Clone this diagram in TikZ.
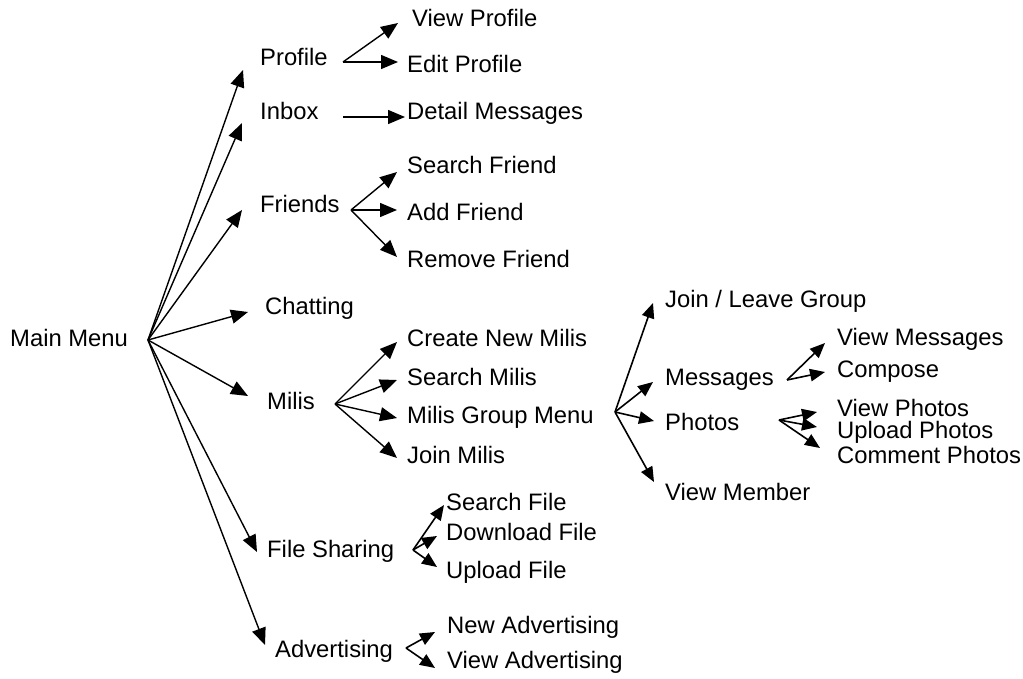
\documentclass[tikz,border=0pt]{standalone}
\usepackage{fontspec}
\setmainfont{Liberation Sans}
\usetikzlibrary{arrows.meta}
\begin{document}
\begin{tikzpicture}[x=1pt,y=-1pt,
  lbl/.style={anchor=base west,inner sep=0pt,font=\fontsize{23.8}{28}\selectfont},
  arr/.style={line width=1.4pt,-{Triangle[length=17pt,width=14pt]}},
  sarr/.style={line width=1.6pt,-{Triangle[length=15pt,width=12.5pt]}}]
\useasboundingbox (0,0) rectangle (1023,679);
% level 0/1 labels
\node[lbl] (main) at (10,346) {Main Menu};
\node[lbl] (profile) at (260,66) {Profile};
\node[lbl] (inbox) at (260,120) {Inbox};
\node[lbl] (friends) at (260,213) {Friends};
\node[lbl] (chat) at (265,314) {Chatting};
\node[lbl] (milis) at (267,409) {Milis};
\node[lbl] (files) at (267,557) {File Sharing};
\node[lbl] (adv) at (275,657) {Advertising};
% level 2 labels
\node[lbl] (vprof) at (412,27) {View Profile};
\node[lbl] (eprof) at (407,73) {Edit Profile};
\node[lbl] (dmsg) at (407,120) {Detail Messages};
\node[lbl] (sfr) at (407,174) {Search Friend};
\node[lbl] (afr) at (407,221) {Add Friend};
\node[lbl] (rfr) at (407,267) {Remove Friend};
\node[lbl] (cnm) at (407,346) {Create New Milis};
\node[lbl] (sm) at (407,385) {Search Milis};
\node[lbl] (mgm) at (407,423) {Milis Group Menu};
\node[lbl] (jm) at (407,463) {Join Milis};
\node[lbl] (sfile) at (446,510) {Search File};
\node[lbl] (dfile) at (446,540) {Download File};
\node[lbl] (ufile) at (446,578) {Upload File};
\node[lbl] (nadv) at (447,633) {New Advertising};
\node[lbl] (vadv) at (447,668) {View Advertising};
% level 3 labels
\node[lbl] (jlg) at (665,307) {Join / Leave Group};
\node[lbl] (gmsg) at (665,385) {Messages};
\node[lbl] (gph) at (665,430) {Photos};
\node[lbl] (vmem) at (665,500) {View Member};
% level 4 labels
\node[lbl] (vmsg) at (837,345) {View Messages};
\node[lbl] (comp) at (837,377) {Compose};
\node[lbl] (vph) at (837,416) {View Photos};
\node[lbl] (uph) at (837,438) {Upload Photos};
\node[lbl] (cph) at (837,463) {Comment Photos};
% fan points
\coordinate (fmain) at (148,340);
\coordinate (fprof) at (343,62);
\coordinate (finbox) at (343,117);
\coordinate (ffr) at (351,210);
\coordinate (fmilis) at (335,404);
\coordinate (fmgm) at (615,412);
\coordinate (ffile) at (413,550);
\coordinate (fadv) at (406,648);
\coordinate (fgmsg) at (787,380);
\coordinate (fgph) at (779,420);
% tips
\coordinate (tprofile) at (243,70);
\coordinate (tinbox) at (242,123);
\coordinate (tfriends) at (242,210);
\coordinate (tchat) at (248,312);
\coordinate (tmilis) at (248,396);
\coordinate (tfiles) at (257,552);
\coordinate (tadv) at (265,645);
\coordinate (tvprof) at (398,23);
\coordinate (teprof) at (398,62);
\coordinate (tdmsg) at (405,117);
\coordinate (tsfr) at (397,172);
\coordinate (tafr) at (397,210);
\coordinate (trfr) at (397,257);
\coordinate (tcnm) at (397,342);
\coordinate (tsm) at (397,380);
\coordinate (tmgm) at (397,418);
\coordinate (tjm) at (397,458);
\coordinate (tsfile) at (444,505);
\coordinate (tdfile) at (437,536);
\coordinate (tufile) at (437,567);
\coordinate (tnadv) at (435,632);
\coordinate (tvadv) at (435,668);
\coordinate (tjlg) at (653,303);
\coordinate (tgmsg) at (653,382);
\coordinate (tgph) at (654,421);
\coordinate (tvmem) at (654,482);
\coordinate (tvmsg) at (825,343);
\coordinate (tcomp) at (825,372);
\coordinate (tvph) at (817,412);
\coordinate (tuph) at (817,427);
\coordinate (tcph) at (820,448);
% connectors
\foreach \t in {tprofile,tinbox,tfriends,tchat,tmilis,tfiles,tadv}
  \draw[arr] (fmain) -- (\t);
\draw[arr] (fprof) -- (tvprof);
\draw[arr] (fprof) -- (teprof);
\draw[arr] (finbox) -- (tdmsg);
\foreach \t in {tsfr,tafr,trfr} \draw[arr] (ffr) -- (\t);
\foreach \t in {tcnm,tsm,tmgm,tjm} \draw[arr] (fmilis) -- (\t);
\foreach \t in {tsfile,tdfile,tufile} \draw[sarr] (ffile) -- (\t);
\foreach \t in {tnadv,tvadv} \draw[sarr] (fadv) -- (\t);
\foreach \t in {tjlg,tgmsg,tgph,tvmem} \draw[sarr] (fmgm) -- (\t);
\foreach \t in {tvmsg,tcomp} \draw[sarr] (fgmsg) -- (\t);
\foreach \t in {tvph,tuph,tcph} \draw[sarr] (fgph) -- (\t);
\end{tikzpicture}
\end{document}
